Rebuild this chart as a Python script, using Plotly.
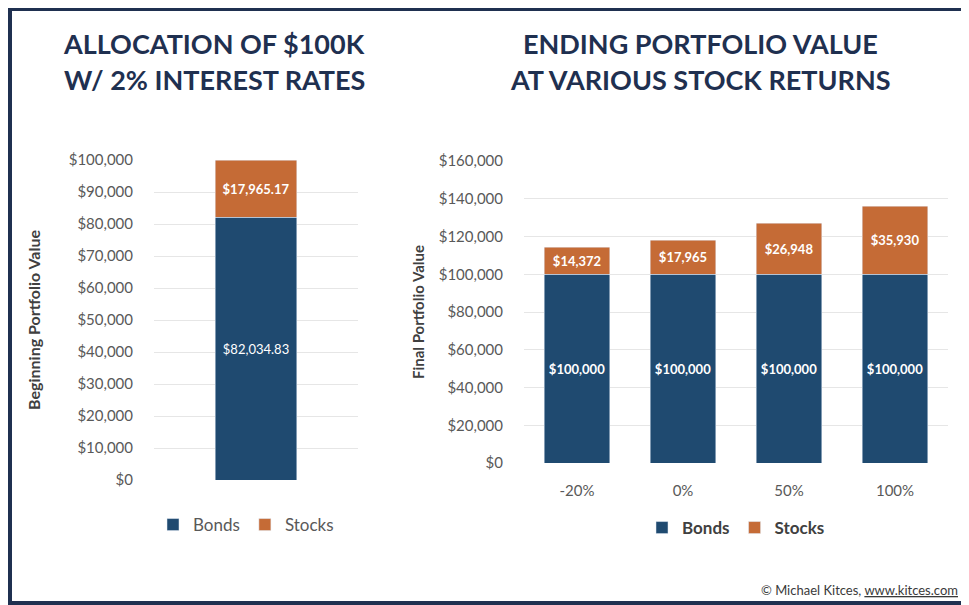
import plotly.graph_objects as go

# ---- data ----
left_category = [""]
left_bonds = [82034.83]
left_stocks = [17965.17]

right_categories = ["-20%", "0%", "50%", "100%"]
right_bonds = [100000, 100000, 100000, 100000]
right_stocks = [14372, 17965, 26948, 35930]

left_ticks = list(range(0, 100001, 10000))
right_ticks = list(range(0, 160001, 20000))

# ---- style ----
# the page adds an 8px body margin; the figure is sized so that it fits the
# 969x605 window exactly and all positions below are window pixels.
W, H = 953, 597
M = 8
NAVY = "#1f4a70"
ORANGE = "#c56b36"
FRAME = "#1f3050"
TITLE_C = "#1f3050"
TICK_C = "#595959"
AXT_C = "#404040"
GRID_C = "#e6e6e6"
FONT = "Lato"


def px(x):
    return (x - M) / W


def py(y):
    return 1 - (y - M) / H


def money(v, dec=0):
    return "${:,.{d}f}".format(v, d=dec)


fig = go.Figure()

# left chart
fig.add_trace(go.Bar(
    x=left_category, y=left_bonds, name="Bonds", marker_color=NAVY,
    text=[money(v, 2) for v in left_bonds], textposition="inside",
    insidetextanchor="middle", textangle=0,
    textfont=dict(color="white", size=13, family=FONT),
    xaxis="x", yaxis="y", legend="legend", hoverinfo="skip"))
fig.add_trace(go.Bar(
    x=left_category, y=left_stocks, name="Stocks", marker_color=ORANGE,
    text=[money(v, 2) for v in left_stocks], textposition="inside",
    insidetextanchor="middle", textangle=0,
    textfont=dict(color="white", size=13, family=FONT, weight="bold"),
    xaxis="x", yaxis="y", legend="legend", hoverinfo="skip"))

# right chart
fig.add_trace(go.Bar(
    x=right_categories, y=right_bonds, name="Bonds", marker_color=NAVY,
    text=[money(v) for v in right_bonds], textposition="inside",
    insidetextanchor="middle", textangle=0, width=0.62,
    textfont=dict(color="white", size=13, family=FONT, weight="bold"),
    xaxis="x2", yaxis="y2", legend="legend2", hoverinfo="skip"))
fig.add_trace(go.Bar(
    x=right_categories, y=right_stocks, name="Stocks", marker_color=ORANGE,
    text=[money(v) for v in right_stocks], textposition="inside",
    insidetextanchor="middle", textangle=0, width=0.62,
    textfont=dict(color="white", size=13, family=FONT, weight="bold"),
    xaxis="x2", yaxis="y2", legend="legend2", hoverinfo="skip"))

axis_common = dict(showline=False, zeroline=False, showgrid=True,
                   gridcolor=GRID_C, gridwidth=1, automargin=False,
                   tickfont=dict(family=FONT, size=15, color=TICK_C))

fig.update_layout(
    width=W, height=H,
    margin=dict(l=0, r=0, t=0, b=0, pad=0, autoexpand=False),
    paper_bgcolor="white", plot_bgcolor="white",
    barmode="stack",
    font=dict(family=FONT, color=TICK_C),
    xaxis=dict(domain=[px(154), px(358)], anchor="y", showticklabels=False,
               showgrid=False, zeroline=False, showline=False,
               automargin=False),
    yaxis=dict(domain=[py(480), py(160)], anchor="x", range=[0, 100000],
               tickvals=left_ticks, ticktext=[money(v) for v in left_ticks],
               ticklabelstandoff=20,
               title=dict(text="<b>Beginning Portfolio Value</b>", standoff=24,
                          font=dict(family=FONT, size=16, color=AXT_C)),
               **axis_common),
    xaxis2=dict(domain=[px(524), px(948)], anchor="y2", showgrid=False,
                zeroline=False, showline=False, ticklabelstandoff=17,
                automargin=False,
                tickfont=dict(family=FONT, size=15, color=TICK_C)),
    yaxis2=dict(domain=[py(463), py(161)], anchor="x2", range=[0, 160000],
                tickvals=right_ticks, ticktext=[money(v) for v in right_ticks],
                ticklabelstandoff=20,
                title=dict(text="<b>Final Portfolio Value</b>", standoff=10,
                           font=dict(family=FONT, size=15, color=AXT_C)),
                **axis_common),
    bargap=0.6,
    legend=dict(orientation="h", x=px(246), xanchor="center",
                y=py(525), yanchor="middle", traceorder="normal",
                font=dict(family=FONT, size=17, color=TICK_C),
                bgcolor="rgba(0,0,0,0)", itemclick=False),
    legend2=dict(orientation="h", x=px(736), xanchor="center",
                 y=py(528), yanchor="middle", traceorder="normal",
                 font=dict(family=FONT, size=17, color=AXT_C, weight="bold"),
                 bgcolor="rgba(0,0,0,0)", itemclick=False),
    showlegend=True,
)

title_lines = [
    (214, 43, "ALLOCATION OF $100K"),
    (214, 80, "W/ 2% INTEREST RATES"),
    (700, 43, "ENDING PORTFOLIO VALUE"),
    (700, 80, "AT VARIOUS STOCK RETURNS"),
]
for x, y, t in title_lines:
    fig.add_annotation(x=px(x), y=py(y), xref="paper", yref="paper",
                       text="<b>" + t + "</b>", showarrow=False,
                       xanchor="center", yanchor="middle",
                       font=dict(family=FONT, size=27, color=TITLE_C))

fig.add_annotation(x=px(960), y=py(590), xref="paper", yref="paper",
                   text="© Michael Kitces, <u>www.kitces.com</u>",
                   showarrow=False, xanchor="right", yanchor="middle",
                   font=dict(family=FONT, size=13, color="#3a3a3a"))

# frame (top, left, bottom)
for x0, y0, x1, y1 in [(7, 5, 12, 606), (7, 5, 970, 11), (7, 601, 970, 606)]:
    fig.add_shape(type="rect", xref="paper", yref="paper",
                  x0=px(x0), x1=px(x1), y0=py(y1), y1=py(y0),
                  fillcolor=FRAME, line=dict(width=0), layer="above")

fig.write_html("out.html", config={"displayModeBar": False})
